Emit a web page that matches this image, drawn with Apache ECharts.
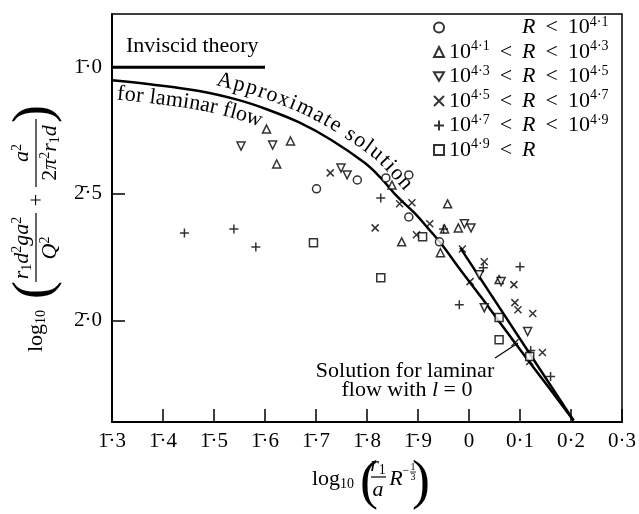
<!DOCTYPE html>
<html lang="en">
<head>
<meta charset="UTF-8">
<title>Laminar flow</title>
<style>html,body{margin:0;padding:0;background:#fff}</style>
</head>
<body>
<div id="main" style="width:639px;height:514px;"></div>
<script src="https://cdn.jsdelivr.net/npm/echarts@6/dist/echarts.min.js"></script>
<script>
var SERIF = '"Liberation Serif", "DejaVu Serif", serif';

// axis ticks (bar notation: 1̄·3 = -0.7 etc.)
var xTicks = [-0.7, -0.6, -0.5, -0.4, -0.3, -0.2, -0.1, 0, 0.1, 0.2, 0.3];
var xTickLabels = ['1\u0304·3', '1\u0304·4', '1\u0304·5', '1\u0304·6', '1\u0304·7', '1\u0304·8', '1\u0304·9', '0', '0·1', '0·2', '0·3'];
var yTicks = [-2.0, -1.5, -1.0];
var yTickLabels = ['2\u0304·0', '2\u0304·5', '1\u0304·0'];

// theory lines
var inviscid = [[-0.7, -1.0], [-0.4, -1.0]];
var approxCurve = [[-0.700, -1.051], [-0.626, -1.067], [-0.529, -1.094], [-0.451, -1.130], [-0.398, -1.165],
  [-0.334, -1.217], [-0.270, -1.287], [-0.204, -1.378], [-0.173, -1.437], [-0.140, -1.512], [-0.107, -1.575],
  [-0.081, -1.634], [-0.056, -1.693], [-0.017, -1.799], [0.026, -1.913], [0.090, -2.087], [0.158, -2.268], [0.205, -2.394]];
var branchLine = [[-0.017, -1.713], [0.205, -2.394]];

// measurements, grouped by R
var circles = [[-0.299, -1.480], [-0.219, -1.445], [-0.163, -1.437], [-0.118, -1.425], [-0.118, -1.591], [-0.058, -1.689]];
var triUp = [[-0.397, -1.244], [-0.350, -1.291], [-0.377, -1.382], [-0.151, -1.465], [-0.042, -1.539], [-0.132, -1.689],
  [-0.056, -1.732], [-0.021, -1.634], [-0.048, -1.638], [0.059, -1.838]];
var triDown = [[-0.447, -1.311], [-0.385, -1.307], [-0.251, -1.398], [-0.239, -1.425], [-0.009, -1.618], [0.004, -1.634],
  [0.020, -1.819], [0.063, -1.846], [0.030, -1.949], [0.115, -2.043]];
var crosses = [[-0.272, -1.417], [-0.184, -1.634], [-0.136, -1.539], [-0.112, -1.535], [-0.103, -1.661], [-0.077, -1.618],
  [-0.013, -1.717], [0.030, -1.768], [0.002, -1.846], [0.088, -1.858], [0.090, -1.929], [0.096, -1.957],
  [0.125, -1.972], [0.090, -2.087], [0.144, -2.126], [0.119, -2.161]];
var pluses = [[-0.558, -1.654], [-0.461, -1.638], [-0.418, -1.709], [-0.173, -1.516], [-0.050, -1.638], [0.100, -1.787],
  [-0.019, -1.937], [0.121, -2.118], [0.160, -2.220], [0.028, -1.791]];
var squares = [[-0.305, -1.693], [-0.173, -1.831], [-0.091, -1.669], [0.059, -1.988], [0.059, -2.075], [0.119, -2.142]];

var groupNames = ['g1', 'g2', 'g3', 'g4', 'g5', 'g6'];
var groupLabels = [
  '{sp| }{r|R}{lt|<}{n|10}{s|4·1}',
  '{n|10}{s|4·1}{lt|<}{r|R}{lt|<}{n|10}{s|4·3}',
  '{n|10}{s|4·3}{lt|<}{r|R}{lt|<}{n|10}{s|4·5}',
  '{n|10}{s|4·5}{lt|<}{r|R}{lt|<}{n|10}{s|4·7}',
  '{n|10}{s|4·7}{lt|<}{r|R}{lt|<}{n|10}{s|4·9}',
  '{n|10}{s|4·9}{lt|<}{r|R}'
];

var SYM_X = 'path://M0,0L10,10M10,0L0,10';
var SYM_PLUS = 'path://M5,0L5,10M0,5L10,5';
var SYM_DOWN = 'path://M0,0L10,0L5,8.66Z';

function pts(name, symbol, data, size) {
  return {
    name: name, type: 'scatter', data: data, symbol: symbol, symbolSize: size || 8,
    itemStyle: {color: '#fff', borderColor: '#000', borderWidth: 1.5},
    z: 5
  };
}

var rich = {
  n: {fontFamily: SERIF, fontSize: 22, color: '#000', lineHeight: 24},
  i: {fontFamily: SERIF, fontSize: 22, fontStyle: 'italic', color: '#000', lineHeight: 24},
  p: {fontFamily: SERIF, fontSize: 14, color: '#000', lineHeight: 15, verticalAlign: 'top'},
  b: {fontFamily: SERIF, fontSize: 14, color: '#000', lineHeight: 15, verticalAlign: 'bottom'}
};

var chart = echarts.init(document.getElementById('main'));

chart.setOption({
  animation: false,
  grid: {left: 112, right: 13, top: 14, bottom: 92, show: true, borderColor: '#000', borderWidth: 1.5},
  legend: {
    data: groupNames, orient: 'vertical', left: 433, top: 15, padding: 0,
    itemWidth: 10, itemHeight: 10, itemGap: 1, selectedMode: false,
    formatter: function (name) { return groupLabels[groupNames.indexOf(name)]; },
    textStyle: {
      fontFamily: SERIF, color: '#000',
      rich: {
        n: {fontFamily: SERIF, fontSize: 22, color: '#000', lineHeight: 25},
        r: {fontFamily: SERIF, fontSize: 22, fontStyle: 'italic', color: '#000', lineHeight: 25},
        lt: {fontFamily: SERIF, fontSize: 22, color: '#000', lineHeight: 25, padding: [0, 10, 0, 10]},
        s: {fontFamily: SERIF, fontSize: 14, color: '#000', lineHeight: 15, verticalAlign: 'top'},
        sp: {width: 73}
      }
    }
  },
  xAxis: {
    type: 'value', min: -0.7, max: 0.3,
    splitLine: {show: false},
    axisLine: {onZero: false, lineStyle: {color: '#000', width: 2}},
    axisTick: {inside: true, length: 13, customValues: xTicks, lineStyle: {color: '#000', width: 1.5}},
    axisLabel: {
      customValues: xTicks, margin: 9, fontFamily: SERIF, fontSize: 21, color: '#000',
      formatter: function (v) {
        for (var i = 0; i < xTicks.length; i++) if (Math.abs(xTicks[i] - v) < 1e-6) return xTickLabels[i];
        return '';
      }
    }
  },
  yAxis: {
    type: 'value', min: -2.4, max: -0.79,
    splitLine: {show: false},
    axisLine: {onZero: false, lineStyle: {color: '#000', width: 2}},
    axisTick: {inside: true, length: 13, customValues: yTicks, lineStyle: {color: '#000', width: 1.5}},
    axisLabel: {
      customValues: yTicks, margin: 10, fontFamily: SERIF, fontSize: 21, color: '#000',
      formatter: function (v) {
        for (var i = 0; i < yTicks.length; i++) if (Math.abs(yTicks[i] - v) < 1e-6) return yTickLabels[i];
        return '';
      }
    }
  },
  series: [
    {name: 'inviscid', type: 'line', data: inviscid, symbol: 'none', lineStyle: {color: '#000', width: 3}, z: 3},
    {name: 'approx', type: 'line', data: approxCurve, smooth: 0.4, symbol: 'none', lineStyle: {color: '#000', width: 2.5}, z: 3},
    {name: 'l0', type: 'line', data: branchLine, symbol: 'none', lineStyle: {color: '#000', width: 2.5}, z: 3},
    pts('g1', 'circle', circles),
    pts('g2', 'triangle', triUp),
    pts('g3', SYM_DOWN, triDown),
    pts('g4', SYM_X, crosses, 7),
    pts('g5', SYM_PLUS, pluses, 9),
    pts('g6', 'rect', squares, 8)
  ]
});

// text set along the drawn curve
function dense(p) {
  var out = [];
  for (var i = 0; i < p.length - 1; i++) {
    var p0 = p[Math.max(i - 1, 0)], p1 = p[i], p2 = p[i + 1], p3 = p[Math.min(i + 2, p.length - 1)];
    for (var k = 0; k < 12; k++) {
      var t = k / 12, t2 = t * t, t3 = t2 * t, q = [];
      for (var d = 0; d < 2; d++) {
        q.push(0.5 * (2 * p1[d] + (-p0[d] + p2[d]) * t + (2 * p0[d] - 5 * p1[d] + 4 * p2[d] - p3[d]) * t2 +
          (-p0[d] + 3 * p1[d] - 3 * p2[d] + p3[d]) * t3));
      }
      out.push(q);
    }
  }
  out.push(p[p.length - 1]);
  return out;
}

var measureCtx = document.createElement('canvas').getContext('2d');

function textAlong(str, pix, x0, x1, off, font) {
  var cum = [0];
  for (var i = 1; i < pix.length; i++) {
    cum.push(cum[i - 1] + Math.hypot(pix[i][0] - pix[i - 1][0], pix[i][1] - pix[i - 1][1]));
  }
  function sAtX(x) {
    for (var i = 1; i < pix.length; i++) if (pix[i][0] >= x) return cum[i];
    return cum[cum.length - 1];
  }
  function at(s) {
    for (var i = 1; i < pix.length; i++) {
      if (cum[i] >= s) {
        var f = (s - cum[i - 1]) / (cum[i] - cum[i - 1] || 1);
        var dx = pix[i][0] - pix[i - 1][0], dy = pix[i][1] - pix[i - 1][1], L = Math.hypot(dx, dy) || 1;
        return {x: pix[i - 1][0] + f * dx, y: pix[i - 1][1] + f * dy, tx: dx / L, ty: dy / L};
      }
    }
    return {x: pix[pix.length - 1][0], y: pix[pix.length - 1][1], tx: 1, ty: 0};
  }
  measureCtx.font = font;
  var w = [], total = 0;
  for (var c = 0; c < str.length; c++) { w.push(measureCtx.measureText(str[c]).width); total += w[c]; }
  var s0 = sAtX(x0), s1 = sAtX(x1);
  var gap = (s1 - s0 - total) / (str.length - 1);
  var els = [], s = s0;
  for (var j = 0; j < str.length; j++) {
    var a = at(s + w[j] / 2);
    if (str[j] !== ' ') {
      els.push({
        type: 'text', x: a.x + a.ty * off, y: a.y - a.tx * off, rotation: -Math.atan2(a.ty, a.tx),
        style: {text: str[j], font: font, fill: '#000', align: 'center', verticalAlign: 'middle',
          textAlign: 'center', textVerticalAlign: 'middle'}
      });
    }
    s += w[j] + gap;
  }
  return els;
}

var curvePix = dense(approxCurve.map(function (p) { return chart.convertToPixel({gridIndex: 0}, p); }));
var labelFont = '22px "Liberation Serif", "DejaVu Serif", serif';

function txt(x, y, text, align, extra) {
  var st = {text: text, rich: rich, fill: '#000', font: labelFont, align: align || 'center', verticalAlign: 'middle',
    textAlign: align || 'center', textVerticalAlign: 'middle'};
  if (extra) for (var k in extra) st[k] = extra[k];
  return {type: 'text', x: x, y: y, style: st};
}
function bar(x1, y1, x2, y2, w) {
  return {type: 'line', shape: {x1: x1, y1: y1, x2: x2, y2: y2}, style: {stroke: '#000', lineWidth: w || 1}};
}

var bigParen = '54px "Liberation Serif", "DejaVu Serif", serif';

var graphics = []
  .concat(textAlong('Approximate solution', curvePix, 212, 397, 15, labelFont))
  .concat(textAlong('for laminar flow', curvePix, 117, 264, -13, labelFont))
  .concat([
    txt(126, 46, '{n|Inviscid theory}', 'left'),
    txt(405, 371, '{n|Solution for laminar}'),
    txt(407, 390, '{n|flow with }{i|l}{n| = 0}'),
    bar(495, 358, 518, 343, 1.2),
    // y axis title, rotated
    {
      type: 'group', x: 36, y: 352, rotation: Math.PI / 2,
      children: [
        txt(0, 0, '{n|log}{b|10}', 'left'),
        txt(62, 0, '(', 'center', {font: bigParen}),
        txt(104, -14, '{i|r}{b|1}{i|d}{p|2}{i|ga}{p|2}'),
        bar(70, 0, 139, 0, 1.2),
        txt(104, 14, '{i|Q}{p|2}'),
        txt(152, 1, '{n|+}'),
        txt(199, -14, '{i|a}{p|2}'),
        bar(165, 0, 233, 0, 1.2),
        txt(199, 14, '{n|2}{i|π}{p|2}{i|r}{b|1}{i|d}'),
        txt(238, 0, ')', 'center', {font: bigParen})
      ]
    },
    // x axis title
    txt(312, 479, '{n|log}{b|10}', 'left'),
    txt(369, 484, '(', 'center', {font: bigParen}),
    txt(378, 465, '{i|r}{b|1}'),
    bar(371, 477, 386, 477, 1.2),
    txt(378, 490, '{i|a}'),
    txt(396, 479, '{i|R}'),
    txt(406, 471, '−', 'center', {font: '12px "Liberation Serif", serif'}),
    txt(413, 467, '1', 'center', {font: '10px "Liberation Serif", serif'}),
    bar(410, 472, 416, 472, 0.8),
    txt(413, 477, '3', 'center', {font: '10px "Liberation Serif", serif'}),
    txt(421, 484, ')', 'center', {font: bigParen})
  ]);

chart.setOption({graphic: graphics});
</script>
</body>
</html>
